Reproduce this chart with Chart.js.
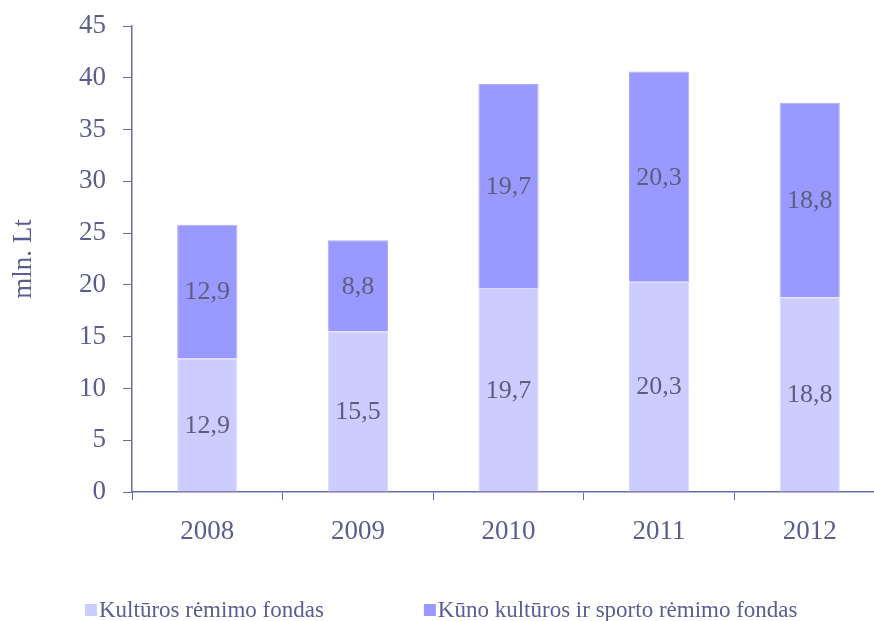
<!DOCTYPE html>
<html>
<head>
<meta charset="utf-8">
<script src="https://cdn.jsdelivr.net/npm/chart.js@4.4.0/dist/chart.umd.min.js"></script>
<style>
    html, body { margin: 0; padding: 0; background: #fff; overflow: hidden; }
    #wrap { width: 874px; height: 621px; overflow: hidden; }
</style>
</head>
<body>
<div id="wrap"><canvas id="fondaiChart" width="890" height="621"></canvas></div>
<script>
// duomenys
const metai = ['2008', '2009', '2010', '2011', '2012'];
const kulturosFondas = [12.9, 15.5, 19.7, 20.3, 18.8];
const sportoFondas = [12.9, 8.8, 19.7, 20.3, 18.8];
const serijuPavadinimai = ['Kultūros rėmimo fondas', 'Kūno kultūros ir sporto rėmimo fondas'];

const SERIF = '"Liberation Serif", "Times New Roman", serif';
const tekstoSpalva = '#5c5c90';
const asiesSpalva = '#6a6aa6';

// reiksmes stulpeliu viduryje
const reiksmiuPlugin = {
    id: 'reiksmes',
    afterDatasetsDraw(chart) {
        const ctx = chart.ctx;
        ctx.save();
        ctx.font = '26px ' + SERIF;
        ctx.fillStyle = '#5e5e7c';
        ctx.textAlign = 'center';
        ctx.textBaseline = 'middle';
        chart.data.datasets.forEach((ds, i) => {
            chart.getDatasetMeta(i).data.forEach((bar, j) => {
                const txt = ds.data[j].toFixed(1).replace('.', ',');
                ctx.fillText(txt, bar.x, (bar.y + bar.base) / 2 + 1);
            });
        });
        ctx.restore();
    }
};

// legenda apacioje
const legendosPlugin = {
    id: 'legenda',
    afterDraw(chart) {
        const ctx = chart.ctx;
        ctx.save();
        ctx.font = '23px ' + SERIF;
        ctx.textBaseline = 'middle';
        let x = 85;
        const y = 610;
        chart.data.datasets.forEach(ds => {
            ctx.fillStyle = ds.backgroundColor;
            ctx.fillRect(x, y - 6, 12, 12);
            ctx.fillStyle = tekstoSpalva;
            ctx.fillText(ds.label, x + 14, y + 1);
            x += 14 + ctx.measureText(ds.label).width + 100;
        });
        ctx.restore();
    }
};

const ctxFondai = document.getElementById('fondaiChart');
new Chart(ctxFondai, {
    type: 'bar',
    data: {
        labels: metai,
        datasets: [
            { label: serijuPavadinimai[0], data: kulturosFondas, backgroundColor: '#ccccff', borderColor: '#dadaff', borderWidth: 1 },
            { label: serijuPavadinimai[1], data: sportoFondas, backgroundColor: '#9999ff', borderColor: '#aeaeff', borderWidth: 1 }
        ]
    },
    options: {
        responsive: false,
        animation: false,
        layout: { padding: { top: 26, right: 5, left: 0, bottom: 0 } },
        datasets: { bar: { barPercentage: 0.4, categoryPercentage: 1 } },
        plugins: {
            legend: { display: false },
            tooltip: { enabled: false }
        },
        scales: {
            x: {
                stacked: true,
                afterFit: s => { s.height = 129; },
                border: { color: asiesSpalva, width: 1.5 },
                grid: { offset: true, drawOnChartArea: false, drawTicks: true, tickLength: 8, color: asiesSpalva },
                ticks: { color: tekstoSpalva, font: { family: SERIF, size: 27 }, padding: 16 }
            },
            y: {
                stacked: true,
                min: 0,
                max: 45,
                afterFit: s => { s.width = 132; s.paddingTop = 0; s.paddingBottom = 0; },
                border: { color: asiesSpalva, width: 1.5 },
                grid: { drawOnChartArea: false, drawTicks: true, tickLength: 9, color: asiesSpalva },
                ticks: { stepSize: 5, color: tekstoSpalva, font: { family: SERIF, size: 27 }, padding: 17 },
                title: { display: true, text: 'mln. Lt', color: tekstoSpalva, font: { family: SERIF, size: 27 }, padding: { top: 8, bottom: 0 } }
            }
        }
    },
    plugins: [reiksmiuPlugin, legendosPlugin]
});
</script>
</body>
</html>
